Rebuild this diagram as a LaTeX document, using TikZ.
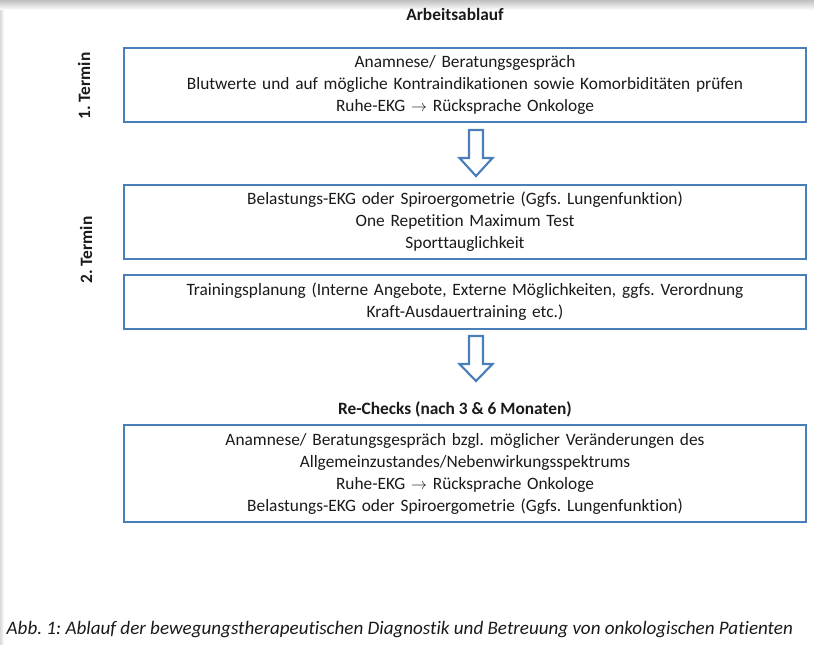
\documentclass[tikz,border=0pt]{standalone}
\usepackage{fontspec}
\setmainfont{Carlito}[Ligatures=NoCommon]
\usetikzlibrary{positioning}
\definecolor{boxblue}{HTML}{4A7EBB}
\definecolor{txtgray}{HTML}{1A1A1A}
\frenchspacing

\begin{document}
\begin{tikzpicture}[x=0.75pt,y=-0.75pt]
% Styles
\tikzset{
    box/.style={draw=boxblue, line width=1.1pt, fill=white, minimum width=511.5pt,
        inner sep=0pt, text width=505pt, align=center,
        font=\fontsize{13}{16.5}\selectfont, text=txtgray},
    blockarrow/.style={draw=boxblue, line width=1.6pt, fill=white, line join=miter},
    heading/.style={font=\fontsize{13}{16}\selectfont\bfseries, text=txtgray},
    termin/.style={heading, rotate=90}
}
\useasboundingbox (0,0) rectangle (814,644);
% Frame shadow
\shade[top color=black!25, bottom color=white] (0,0) rectangle (814,10);
\shade[left color=black!15, right color=white] (0,10) rectangle (4,644);
% Headings
\draw (455,14) node[heading] (title) {Arbeitsablauf};
\draw (84,86) node[termin] (t1) {1. Termin};
\draw (86,250) node[termin] (t2) {2. Termin};
\draw (455,409) node[heading] (recheck) {Re-Checks (nach 3 \& 6 Monaten)};
% Boxes
\draw (465,85) node[box, minimum height=55.5pt] (termin1)
    {Anamnese/ Beratungsgespräch\\
     Blutwerte und auf mögliche Kontraindikationen sowie Komorbiditäten prüfen\\
     Ruhe-EKG $\rightarrow$ Rücksprache Onkologe};
\draw (465,222) node[box, minimum height=55.5pt] (tests)
    {Belastungs-EKG oder Spiroergometrie (Ggfs. Lungenfunktion)\\
     One Repetition Maximum Test\\
     Sporttauglichkeit};
\draw (465,302) node[box, minimum height=40.5pt] (plan)
    {Trainingsplanung (Interne Angebote, Externe Möglichkeiten, ggfs. Verordnung\\
     Kraft-Ausdauertraining etc.)};
\draw (465,473.5) node[box, minimum height=72.75pt] (checks)
    {Anamnese/ Beratungsgespräch bzgl. möglicher Veränderungen des\\
     Allgemeinzustandes/Nebenwirkungsspektrums\\
     Ruhe-EKG $\rightarrow$ Rücksprache Onkologe\\
     Belastungs-EKG oder Spiroergometrie (Ggfs. Lungenfunktion)};
% Block arrows
\coordinate (arr1) at (476,130);
\coordinate (arr2) at (476,336);
\draw[blockarrow] (arr1) ++(-7,0) -- ++(14,0) -- ++(0,28) -- ++(9.5,0)
    -- ++(-16.5,18) -- ++(-16.5,-18) -- ++(9.5,0) -- cycle;
\draw[blockarrow] (arr2) ++(-7,0) -- ++(14,0) -- ++(0,28) -- ++(9.5,0)
    -- ++(-16.5,17) -- ++(-16.5,-17) -- ++(9.5,0) -- cycle;
% Caption
\draw (2,630) node[anchor=west, font=\fontsize{14.3}{17}\selectfont\itshape, text=txtgray] (caption)
    {Abb. 1: Ablauf der bewegungstherapeutischen Diagnostik und Betreuung von onkologischen Patienten};
\end{tikzpicture}
\end{document}
